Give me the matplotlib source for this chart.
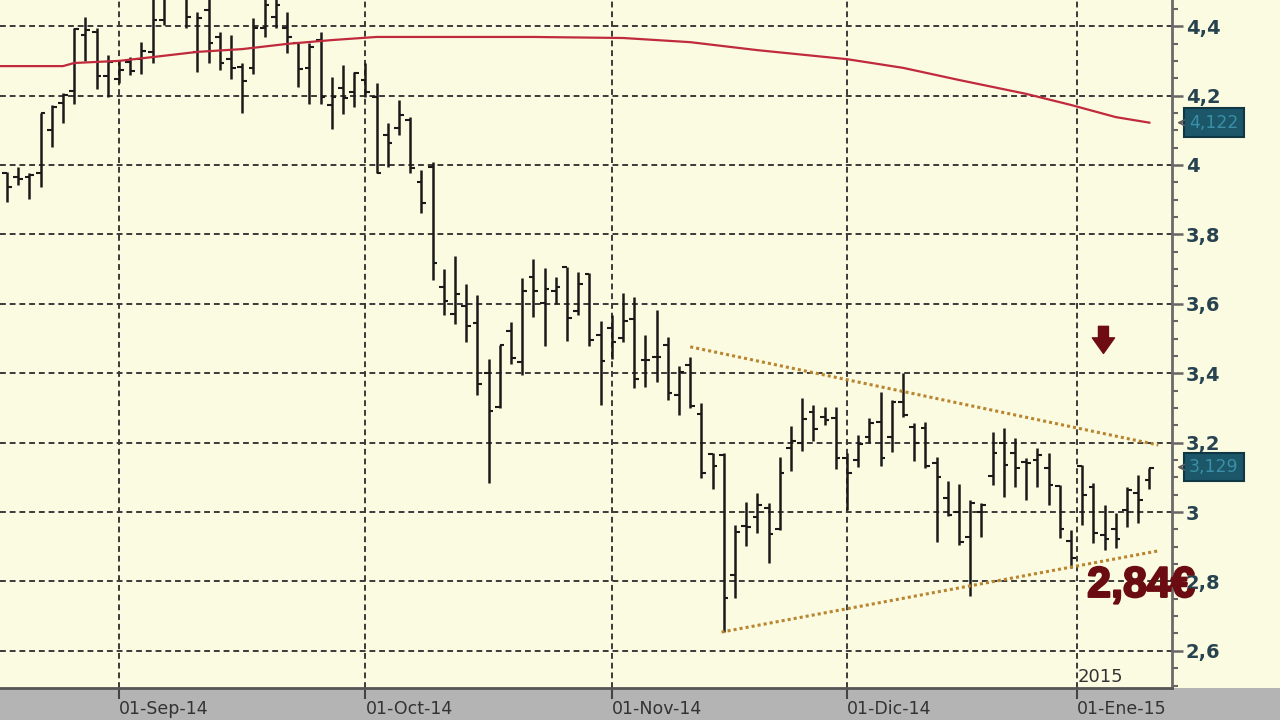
import numpy as np
import matplotlib
matplotlib.use("Agg")
import matplotlib.pyplot as plt
import matplotlib.transforms as mtransforms
import matplotlib.patheffects as pe
from matplotlib.ticker import FuncFormatter, MultipleLocator

# daily OHLC, 18-Aug-14 .. 09-Ene-15 (one entry per session)
opens = [3.977, 3.965, 3.965, 3.977, 4.101, 4.179, 4.213, 4.375, 4.383, 4.257,
         4.248, 4.297, 4.305, 4.326, 4.418, 4.59, 4.49, 4.326, 4.447, 4.369,
         4.305, 4.282, 4.28, 4.395, 4.427, 4.395, 4.352, 4.28, 4.36, 4.173,
         4.222, 4.21, 4.245, 4.196, 4.086, 4.107, 4.13, 3.951, 3.994, 3.649,
         3.571, 3.594, 3.545, 3.401, 3.303, 3.522, 3.432, 3.677, 3.602, 3.637,
         3.706, 3.579, 3.686, 3.51, 3.53, 3.501, 3.556, 3.438, 3.447, 3.481,
         3.337, 3.424, 3.282, 3.167, 3.164, 2.818, 2.96, 2.986, 3.012, 2.951,
         3.185, 3.199, 3.288, 3.274, 3.271, 3.156, 3.15, 3.216, 3.259, 3.216,
         3.317, 3.245, 3.242, 3.141, 3.04, 3.0, 2.928, 3.0, 3.104, 3.199,
         3.17, 3.144, 3.15, 3.127, 3.075, 2.916, 3.133, 3.072, 2.934, 2.951,
         3.006, 3.055, 3.092]
highs = [3.98, 3.994, 3.977, 4.15, 4.173, 4.207, 4.395, 4.427, 4.395, 4.317,
         4.303, 4.311, 4.354, 4.519, 4.504, 4.648, 4.533, 4.441, 4.499, 4.383,
         4.375, 4.294, 4.424, 4.504, 4.49, 4.441, 4.354, 4.352, 4.383, 4.254,
         4.288, 4.268, 4.294, 4.236, 4.121, 4.187, 4.138, 3.986, 4.009, 3.70,
         3.738, 3.657, 3.625, 3.441, 3.481, 3.548, 3.674, 3.729, 3.703, 3.677,
         3.706, 3.692, 3.689, 3.55, 3.568, 3.631, 3.62, 3.51, 3.582, 3.504,
         3.421, 3.447, 3.314, 3.17, 3.17, 2.963, 3.029, 3.055, 3.026, 3.158,
         3.248, 3.329, 3.308, 3.303, 3.303, 3.17, 3.222, 3.271, 3.346, 3.323,
         3.401, 3.256, 3.259, 3.158, 3.089, 3.081, 3.035, 3.026, 3.231, 3.242,
         3.213, 3.156, 3.185, 3.17, 3.078, 2.948, 3.135, 3.084, 3.02, 2.997,
         3.072, 3.107, 3.127]
lows = [3.893, 3.942, 3.902, 3.937, 4.052, 4.121, 4.176, 4.30, 4.219, 4.196,
        4.236, 4.26, 4.262, 4.294, 4.403, 4.484, 4.395, 4.268, 4.294, 4.274,
        4.248, 4.15, 4.262, 4.369, 4.395, 4.323, 4.225, 4.176, 4.176, 4.104,
        4.147, 4.167, 4.196, 3.977, 3.994, 4.086, 3.977, 3.862, 3.669, 3.568,
        3.542, 3.49, 3.337, 3.084, 3.30, 3.427, 3.395, 3.562, 3.478, 3.60,
        3.493, 3.568, 3.478, 3.308, 3.441, 3.49, 3.357, 3.36, 3.375, 3.323,
        3.279, 3.30, 3.098, 3.066, 2.654, 2.752, 2.902, 2.939, 2.853, 2.948,
        3.118, 3.176, 3.205, 3.251, 3.124, 3.006, 3.13, 3.199, 3.133, 3.173,
        3.274, 3.147, 3.127, 2.914, 2.988, 2.905, 2.758, 2.928, 3.078, 3.043,
        3.072, 3.035, 3.072, 3.02, 2.925, 2.839, 2.963, 2.911, 2.89, 2.896,
        2.957, 2.968, 3.066]
closes = [3.937, 3.96, 3.971, 4.15, 4.167, 4.202, 4.392, 4.389, 4.257, 4.297,
          4.274, 4.271, 4.328, 4.418, 4.49, 4.53, 4.427, 4.424, 4.352, 4.294,
          4.28, 4.242, 4.395, 4.461, 4.461, 4.369, 4.277, 4.34, 4.196, 4.196,
          4.193, 4.265, 4.21, 3.977, 4.063, 4.144, 3.991, 3.89, 3.718, 3.608,
          3.628, 3.536, 3.369, 3.291, 3.481, 3.444, 3.637, 3.637, 3.643, 3.649,
          3.559, 3.657, 3.496, 3.435, 3.49, 3.55, 3.383, 3.438, 3.447, 3.343,
          3.403, 3.306, 3.112, 3.133, 2.752, 2.942, 2.957, 3.02, 2.937, 3.112,
          3.205, 3.268, 3.24, 3.265, 3.156, 3.112, 3.196, 3.256, 3.156, 3.317,
          3.279, 3.199, 3.133, 3.101, 2.991, 2.914, 3.026, 3.02, 3.17, 3.135,
          3.127, 3.141, 3.164, 3.078, 2.951, 2.867, 3.049, 2.939, 2.922, 2.922,
          3.063, 3.035, 3.127]

# moving average read at some sessions
ma_idx = [-1, 5, 6, 10, 13, 17, 21, 25, 29, 33, 47, 55, 61, 67, 75, 80, 85, 91, 95, 99, 102]
ma_val = [4.285, 4.285, 4.294, 4.30, 4.311, 4.326, 4.334, 4.349, 4.36, 4.369, 4.369,
          4.366, 4.354, 4.331, 4.305, 4.28, 4.245, 4.205, 4.173, 4.138, 4.122]

# trend lines (session index, price)
upper_x = [61, 102.8]
upper_y = [3.476, 3.193]
lower_x = [63.8, 102.8]
lower_y = [2.654, 2.888]

tick_pos = [10, 32, 54, 75, 95.5]
tick_lab = ["01-Sep-14", "01-Oct-14", "01-Nov-14", "01-Dic-14", "01-Ene-15"]

last_ma = 4.122
last_px = 3.129

cream = "#fbfbe2"
narrow = ["DejaVu Sans Condensed", "Liberation Sans Narrow", "DejaVu Sans"]

fig = plt.figure(figsize=(12.8, 7.2), dpi=100, facecolor=cream)
fig.patches.append(plt.Rectangle((0, 0), 1, 32 / 720, transform=fig.transFigure,
                                 facecolor="#b4b4b4", edgecolor="none", zorder=-5))
ax = fig.add_axes([0, 32 / 720, 1172 / 1280, 688 / 720])
ax.set_facecolor(cream)

x = np.arange(len(highs))
ax.vlines(x, lows, highs, color="#1a1a1a", lw=1.8, zorder=3)
ax.hlines(opens, x - 0.42, x, color="#1a1a1a", lw=1.5, zorder=3)
ax.hlines(closes, x, x + 0.42, color="#1a1a1a", lw=1.5, zorder=3)

ax.plot(ma_idx, ma_val, color="#c02a3c", lw=1.6, zorder=4)
ax.plot(upper_x, upper_y, color="#b98530", lw=2.2, ls=(0, (1, 1)), zorder=4)
ax.plot(lower_x, lower_y, color="#b98530", lw=2.2, ls=(0, (1, 1)), zorder=4)

ax.set_xlim(-0.625, 104.02)
ax.set_ylim(2.4928, 4.4755)

ax.yaxis.tick_right()
ax.yaxis.set_major_locator(MultipleLocator(0.2))
ax.yaxis.set_minor_locator(MultipleLocator(0.05))
ax.yaxis.set_major_formatter(FuncFormatter(lambda v, p: ("%g" % round(v, 2)).replace(".", ",")))
ax.tick_params(axis="y", which="major", length=8, width=1.8, color="#666666", pad=2,
               labelsize=14, labelcolor="#27434f")
ax.tick_params(axis="y", which="minor", length=4, width=1.5, color="#666666")
for t in ax.get_yticklabels():
    t.set_family(narrow)
    t.set_fontweight("bold")

ax.set_xticks(tick_pos)
ax.set_xticklabels(tick_lab, ha="left", family=narrow, fontsize=12.5, color="#333333")
ax.tick_params(axis="x", length=8, width=1.5, color="#444444", pad=1)

ax.grid(True, which="major", color="#3a3a3a", lw=1.4, ls=(0, (3, 2)))
ax.set_axisbelow(True)

for s in ["top", "left"]:
    ax.spines[s].set_visible(False)
ax.spines["right"].set_color("#6a6a6a")
ax.spines["right"].set_linewidth(2)
ax.spines["bottom"].set_color("#555555")
ax.spines["bottom"].set_linewidth(2)

ax.text(95.6, 2.499, "2015", ha="left", va="bottom", family=narrow, fontsize=13, color="#333333")

trans = mtransforms.blended_transform_factory(ax.transAxes, ax.transData)
for v in [last_ma, last_px]:
    ax.text(1.0145, v, ("%.3f" % v).replace(".", ","), transform=trans, ha="left", va="center",
            family=narrow, fontsize=12.5, color="#3a8fa6", clip_on=False,
            bbox=dict(boxstyle="square,pad=0.3", fc="#1c5669", ec="#0f3744", lw=1.5))
    ax.annotate("", xy=(1.002, v), xycoords=trans, xytext=(1.011, v), textcoords=trans,
                arrowprops=dict(arrowstyle="->", color="#5a5a5a", lw=1.2))

ax.annotate("", xy=(97.9, 3.457), xytext=(97.9, 3.535),
            arrowprops=dict(arrowstyle="simple,head_length=0.7,head_width=1.0,tail_width=0.45",
                            fc="#6e0c12", ec="#6e0c12", mutation_scale=16, shrinkA=0, shrinkB=0))

t = ax.text(101.25, 2.787, "2,84€", ha="center", va="center", fontsize=31, fontweight="bold",
            family=["Liberation Sans", "DejaVu Sans"], color="#6a0c12", clip_on=False, zorder=6)
t.set_path_effects([pe.withStroke(linewidth=1.5, foreground="#6a0c12")])

fig.savefig("out.png", dpi=100, facecolor=fig.get_facecolor())
